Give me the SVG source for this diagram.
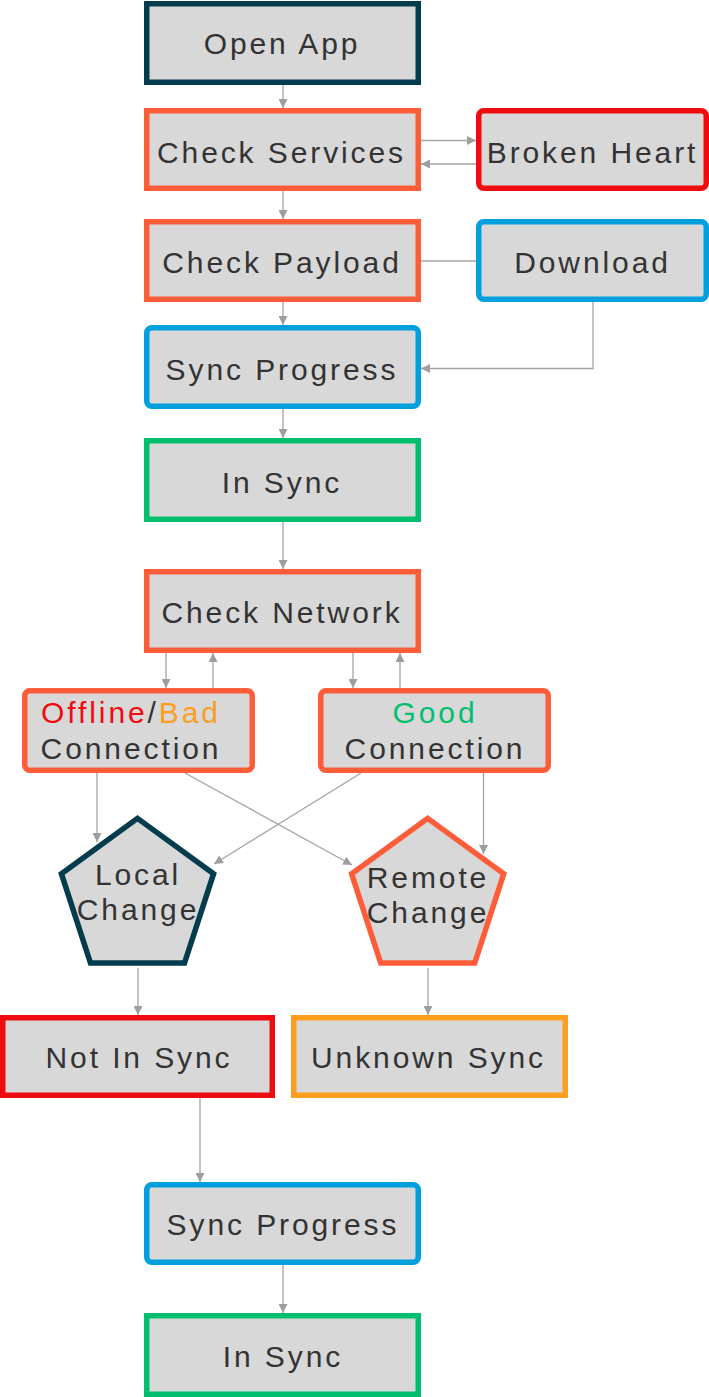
<svg xmlns="http://www.w3.org/2000/svg" width="709" height="1397" viewBox="0 0 709 1397">
<defs>
<marker id="ah" markerWidth="10" markerHeight="9" refX="9" refY="4.5" orient="auto" markerUnits="userSpaceOnUse">
<path d="M0,0 L9,4.5 L0,9 Z" fill="#9e9e9e"/>
</marker>
<style>
.box{fill:#d8d8d8;stroke-width:5.5}
.dk{stroke:#033c4d}
.or{stroke:#fe5d3a}
.rd{stroke:#ef0c10}
.bl{stroke:#029fdf}
.gr{stroke:#01bf6e}
.am{stroke:#fd9e1e}
.t{font-family:"Liberation Sans",Arial,Helvetica,sans-serif;font-size:30px;letter-spacing:2.9px;fill:#333;text-anchor:middle}
.c line,.c path{stroke:#a4a4a4;stroke-width:1.3;fill:none}
.a{marker-end:url(#ah)}
</style>
</defs>
<g class="c" id="connectors">
<line class="a" x1="283" y1="85" x2="283" y2="108"/>
<line class="a" x1="421" y1="140.5" x2="476" y2="140.5"/>
<line class="a" x1="476" y1="164" x2="421" y2="164"/>
<line class="a" x1="283" y1="191" x2="283" y2="219"/>
<line x1="421" y1="261" x2="476" y2="261"/>
<line class="a" x1="283" y1="302" x2="283" y2="325"/>
<path class="a" d="M593,302 V368.5 H421"/>
<line class="a" x1="283" y1="409" x2="283" y2="438"/>
<line class="a" x1="283" y1="522" x2="283" y2="569"/>
<line class="a" x1="166" y1="653" x2="166" y2="688"/>
<line class="a" x1="213" y1="688" x2="213" y2="653"/>
<line class="a" x1="353" y1="653" x2="353" y2="688"/>
<line class="a" x1="400" y1="688" x2="400" y2="653"/>
<line class="a" x1="97" y1="773" x2="97" y2="842"/>
<line class="a" x1="185" y1="773" x2="352" y2="865"/>
<line class="a" x1="361" y1="773" x2="214" y2="864"/>
<line class="a" x1="483.5" y1="773" x2="483.5" y2="854"/>
<line class="a" x1="138" y1="968" x2="138" y2="1015"/>
<line class="a" x1="428" y1="968" x2="428" y2="1015"/>
<line class="a" x1="200" y1="1098" x2="200" y2="1182"/>
<line class="a" x1="283" y1="1265" x2="283" y2="1313"/>
</g>
<g id="open-app"><rect class="box dk" x="146.75" y="3.75" width="271.5" height="78.5"/><text class="t" x="282" y="54">Open App</text></g>
<g id="check-services"><rect class="box or" x="146.75" y="110.75" width="271.5" height="77.5"/><text class="t" x="281.5" y="163">Check Services</text></g>
<g id="broken-heart"><rect class="box rd" x="478.75" y="110.75" width="227.5" height="77.5" rx="5"/><text class="t" x="592.5" y="163">Broken Heart</text></g>
<g id="check-payload"><rect class="box or" x="146.75" y="221.75" width="271.5" height="77.5"/><text class="t" x="282" y="273">Check Payload</text></g>
<g id="download"><rect class="box bl" x="478.75" y="221.75" width="227.5" height="77.5" rx="5"/><text class="t" x="592.5" y="273">Download</text></g>
<g id="sync-progress"><rect class="box bl" x="146.75" y="327.75" width="271.5" height="78.5" rx="5"/><text class="t" x="282" y="380">Sync Progress</text></g>
<g id="in-sync"><rect class="box gr" x="146.75" y="440.75" width="271.5" height="78.5"/><text class="t" x="282" y="493">In Sync</text></g>
<g id="check-network"><rect class="box or" x="146.75" y="571.75" width="271.5" height="78.5"/><text class="t" x="282" y="623">Check Network</text></g>
<g id="offline-bad"><rect class="box or" x="24.75" y="690.75" width="227.5" height="79.5" rx="5"/><text class="t" x="131" y="723"><tspan fill="#ef0c10">Offline</tspan>/<tspan fill="#fd9e1e">Bad</tspan></text><text class="t" x="131" y="759">Connection</text></g>
<g id="good"><rect class="box or" x="320.75" y="690.75" width="227.5" height="79.5" rx="5"/><text class="t" x="435" y="723" style="fill:#01bf6e">Good</text><text class="t" x="435" y="759">Connection</text></g>
<g id="local-change"><path class="box dk" d="M137.5,818.4 L213.6,873.7 L184.5,963.1 L90.5,963.1 L61.4,873.7 Z"/><text class="t" x="138" y="885">Local</text><text class="t" x="138" y="920">Change</text></g>
<g id="remote-change"><path class="box or" d="M427.7,818.4 L503.8,873.7 L474.7,963.1 L380.7,963.1 L351.6,873.7 Z"/><text class="t" x="428" y="888">Remote</text><text class="t" x="428" y="923">Change</text></g>
<g id="not-in-sync"><rect class="box rd" x="2.75" y="1017.75" width="269.5" height="77.5"/><text class="t" x="139" y="1068">Not In Sync</text></g>
<g id="unknown-sync"><rect class="box am" x="293.75" y="1017.75" width="271.5" height="77.5"/><text class="t" x="428.5" y="1068">Unknown Sync</text></g>
<g id="sync-progress-2"><rect class="box bl" x="146.75" y="1184.75" width="271.5" height="77.5" rx="5"/><text class="t" x="283" y="1235">Sync Progress</text></g>
<g id="in-sync-2"><rect class="box gr" x="146.75" y="1315.75" width="271.5" height="78.5"/><text class="t" x="283" y="1367">In Sync</text></g>
</svg>
